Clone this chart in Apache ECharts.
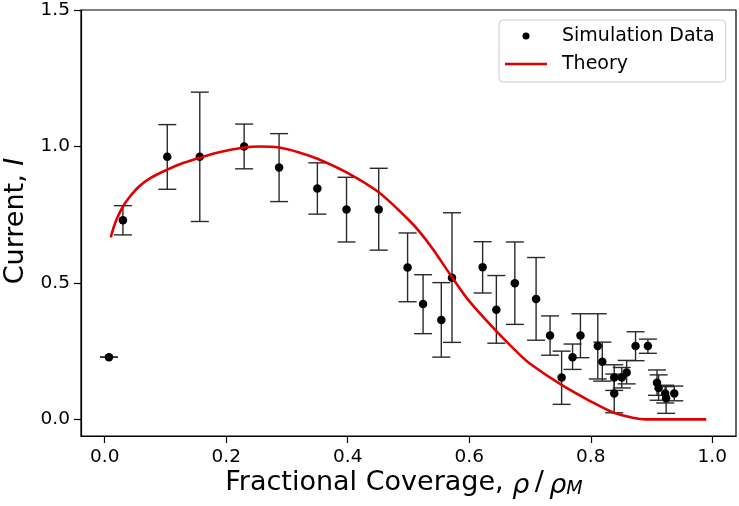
<!DOCTYPE html>
<html>
<head>
<meta charset="utf-8">
<script src="https://cdn.jsdelivr.net/npm/echarts@6/dist/echarts.min.js"></script>
<style>
html,body{margin:0;padding:0;background:#fff;}
#chart{width:739px;height:506px;}
</style>
</head>
<body>
<div id="chart"></div>
<script>
// ---- data ----
const xTicks = [0.0, 0.2, 0.4, 0.6, 0.8, 1.0];
const yTicks = [0.0, 0.5, 1.0, 1.5];

const simX  = [0.007, 0.030, 0.103, 0.1565, 0.2295, 0.287, 0.350, 0.398, 0.451, 0.4985,
               0.524, 0.554, 0.5716, 0.622, 0.6446, 0.675, 0.710, 0.733, 0.752, 0.770,
               0.783, 0.8115, 0.819, 0.8386, 0.8386, 0.851, 0.859, 0.8737, 0.894, 0.909,
               0.9116, 0.9225, 0.924, 0.9374];
const simY  = [0.228, 0.730, 0.962, 0.962, 1.000, 0.923, 0.846, 0.769, 0.769, 0.556,
               0.423, 0.364, 0.519, 0.557, 0.402, 0.499, 0.441, 0.307, 0.153, 0.228,
               0.307, 0.269, 0.211, 0.153, 0.095, 0.153, 0.172, 0.269, 0.269, 0.134,
               0.115, 0.095, 0.077, 0.095];
const errLo = [0.228, 0.676, 0.843, 0.725, 0.918, 0.798, 0.752, 0.650, 0.620, 0.431,
               0.314, 0.228, 0.282, 0.463, 0.279, 0.348, 0.290, 0.235, 0.055, 0.183,
               0.226, 0.148, 0.140, 0.106, 0.024, 0.115, 0.130, 0.215, 0.242, 0.088,
               0.070, 0.060, 0.022, 0.068];
const errHi = [0.228, 0.783, 1.080, 1.199, 1.082, 1.047, 0.940, 0.887, 0.920, 0.683,
               0.530, 0.501, 0.757, 0.651, 0.527, 0.650, 0.593, 0.379, 0.250, 0.276,
               0.387, 0.387, 0.283, 0.200, 0.166, 0.190, 0.216, 0.321, 0.294, 0.181,
               0.163, 0.125, 0.120, 0.122];

const theoryX = [0.010, 0.015, 0.020, 0.030, 0.040, 0.0565, 0.075, 0.103, 0.130, 0.1565,
                 0.190, 0.2295, 0.254, 0.287, 0.320, 0.350, 0.398, 0.451, 0.4985, 0.518,
                 0.5397, 0.5716, 0.600, 0.6446, 0.6825, 0.700, 0.752, 0.798, 0.836, 0.869,
                 0.891, 0.930, 0.960, 0.990];
const theoryY = [0.667, 0.705, 0.735, 0.780, 0.812, 0.853, 0.884, 0.915, 0.940, 0.959,
                 0.980, 0.996, 1.000, 0.996, 0.978, 0.955, 0.905, 0.832, 0.735, 0.688,
                 0.625, 0.521, 0.433, 0.323, 0.238, 0.204, 0.126, 0.068, 0.026, 0.006,
                 0.000, 0.000, 0.000, 0.000];

const FONT = 'DejaVu Sans';
const chart = echarts.init(document.getElementById('chart'), null, {renderer: 'canvas'});

function errRender(params, api) {
  const x = api.value(0), lo = api.value(1), hi = api.value(2);
  const pHi = api.coord([x, hi]);
  const pLo = api.coord([x, lo]);
  const hw = 9;
  const st = {stroke: '#2a2a2a', lineWidth: 1.4};
  return {
    type: 'group',
    children: [
      {type: 'line', shape: {x1: pHi[0], y1: pHi[1], x2: pLo[0], y2: pLo[1]}, style: st},
      {type: 'line', shape: {x1: pHi[0] - hw, y1: pHi[1], x2: pHi[0] + hw, y2: pHi[1]}, style: st},
      {type: 'line', shape: {x1: pLo[0] - hw, y1: pLo[1], x2: pLo[0] + hw, y2: pLo[1]}, style: st}
    ]
  };
}

const option = {
  backgroundColor: '#ffffff',
  animation: false,
  grid: {left: 81, right: 3, top: 10, bottom: 70, show: true, borderColor: '#000', borderWidth: 1.2},
  xAxis: {
    type: 'value', min: -0.039, max: 1.039,
    axisLine: {show: true, onZero: false, lineStyle: {color: '#000', width: 1.2}},
    axisTick: {show: true, customValues: xTicks, length: 7, lineStyle: {color: '#000', width: 1.2}},
    axisLabel: {customValues: xTicks, formatter: v => v.toFixed(1), color: '#000', fontSize: 18.5, fontFamily: FONT, margin: 12},
    splitLine: {show: false}
  },
  yAxis: {
    type: 'value', min: -0.061, max: 1.5,
    axisLine: {show: true, onZero: false, lineStyle: {color: '#000', width: 1.2}},
    axisTick: {show: true, customValues: yTicks, length: 7, lineStyle: {color: '#000', width: 1.2}},
    axisLabel: {customValues: yTicks, formatter: v => v.toFixed(1), color: '#000', fontSize: 18.5, fontFamily: FONT, margin: 11},
    splitLine: {show: false}
  },
  legend: {
    data: [
      {name: 'Simulation Data', icon: 'circle'},
      {name: 'Theory', icon: 'path://M0,0H42V2.6H0Z'}
    ],
    orient: 'vertical',
    left: 499, top: 20,
    padding: [5, 11, 7, 6],
    itemWidth: 42, itemHeight: 7, itemGap: 6,
    borderColor: '#cccccc', borderWidth: 1, borderRadius: 4,
    backgroundColor: 'rgba(255,255,255,0.8)',
    textStyle: {fontSize: 19, fontFamily: FONT, color: '#000', lineHeight: 22, padding: [0, 0, 0, 10]}
  },
  series: [
    {
      name: 'errorbars', type: 'custom', renderItem: errRender,
      data: simX.map((x, i) => [x, errLo[i], errHi[i]]),
      encode: {x: 0, y: [1, 2]}, z: 2, silent: true
    },
    {
      name: 'Simulation Data', type: 'scatter',
      data: simX.map((x, i) => [x, simY[i]]),
      symbol: 'circle', symbolSize: 8.5,
      itemStyle: {color: '#000', opacity: 1}, z: 3
    },
    {
      name: 'Theory', type: 'line',
      data: theoryX.map((x, i) => [x, theoryY[i]]),
      showSymbol: false, symbol: 'none',
      smooth: 0.3,
      lineStyle: {color: '#e00000', width: 2.6},
      itemStyle: {color: '#e00000'}, z: 4
    }
  ],
  graphic: [
    {
      type: 'text', x: 404, y: 483,
      style: {
        text: 'Fractional Coverage, {i|ρ}\u2009/\u2009{i|ρ}{s|M}',
        fontSize: 27, fontFamily: FONT, fill: '#000',
        align: 'center', verticalAlign: 'middle',
        rich: {
          i: {fontSize: 27, fontFamily: FONT, fontStyle: 'italic', lineHeight: 32, verticalAlign: 'bottom'},
          s: {fontSize: 19, fontFamily: FONT, fontStyle: 'italic', lineHeight: 14, verticalAlign: 'bottom'}
        }
      }
    },
    {
      type: 'text', x: 16, y: 221, rotation: Math.PI / 2,
      style: {
        text: 'Current, {i|I}',
        fontSize: 27, fontFamily: FONT, fill: '#000',
        align: 'center', verticalAlign: 'middle',
        rich: {i: {fontSize: 27, fontFamily: FONT, fontStyle: 'italic'}}
      }
    }
  ]
};
chart.setOption(option);
</script>
</body>
</html>
